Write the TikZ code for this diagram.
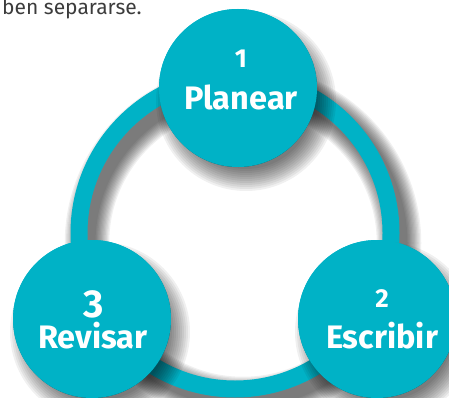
\documentclass[tikz,border=0pt]{standalone}
\usepackage{fontspec}
\setmainfont{Fira Sans}
\definecolor{tealc}{RGB}{0,178,198}
\definecolor{bodytext}{RGB}{60,60,60}
\begin{document}
\begin{tikzpicture}[x=1pt,y=-1pt,
  stepcircle/.style={circle, fill=tealc, minimum size=158pt, inner sep=0pt},
  numtext/.style={anchor=base, text=white, font=\bfseries\fontsize{26}{26}\selectfont, inner sep=0pt},
  bignum/.style={anchor=base, text=white, font=\bfseries\fontsize{39}{39}\selectfont, inner sep=0pt},
  labtext/.style={anchor=base, text=white, font=\bfseries\fontsize{32.5}{32.5}\selectfont, inner sep=0pt},
  shadowlayer/.style={black, opacity=0.06}]
\useasboundingbox (0,0) rectangle (449,398);
\clip (0,0) rectangle (449,398);
\coordinate (rc) at (235,233);
\coordinate (rs) at (243,243);
% ring shadow
\foreach \w in {1,...,12}
  \draw[shadowlayer, line width=47pt-\w*2.5pt] (rs) circle (156);
% ring
\draw[tealc, line width=17pt] (rc) circle (156);
% circles
\node[stepcircle] (c1) at (238,88) {};
\node[stepcircle] (c2) at (377,319) {};
\node[stepcircle] (c3) at (92,319) {};
% circle shadows
\foreach \n in {c1,c2,c3}
  \foreach \k in {1,...,12}
    \fill[shadowlayer] ([shift={(8,13)}]\n.center) circle ({92-\k*2});
\foreach \n in {c1,c2,c3}
  \fill[tealc] (\n.center) circle (79);
% texts
\node[numtext] (n1) at (241,68) {1};
\node[labtext] (l1) at (241,110) {Planear};
\node[numtext] (n2) at (382,307) {2};
\node[labtext] (l2) at (382,348) {Escribir};
\node[bignum] (n3) at (94,317) {3};
\node[labtext] (l3) at (93,348) {Revisar};
\node[anchor=base west, text=bodytext, font=\fontsize{21}{21}\selectfont, inner sep=0pt] (intro) at (2,15) {ben separarse.};
\end{tikzpicture}
\end{document}
